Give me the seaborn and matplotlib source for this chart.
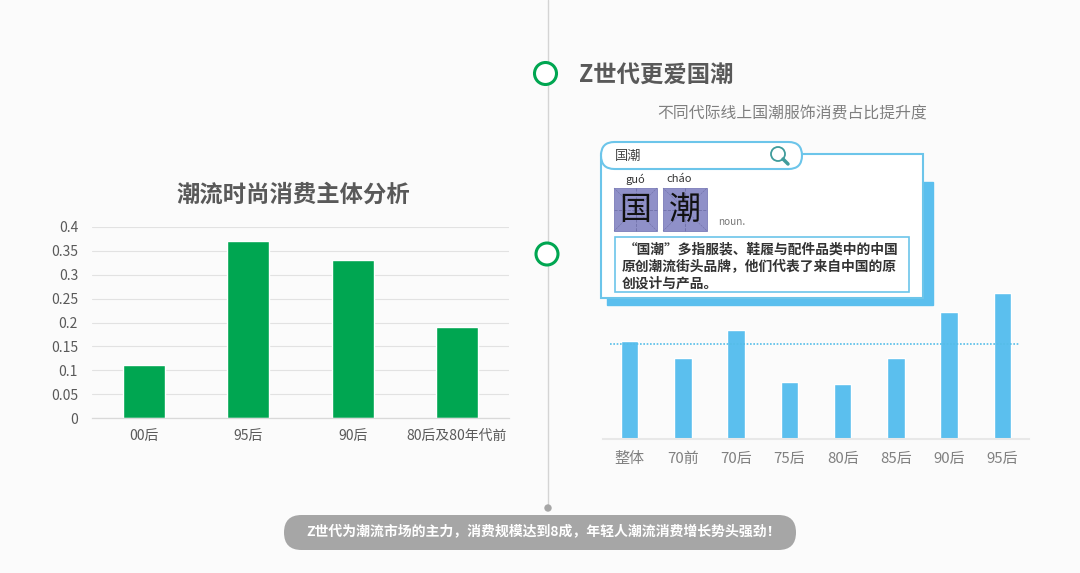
import numpy as np
import pandas as pd
import matplotlib
matplotlib.use("Agg")
import matplotlib.pyplot as plt
from matplotlib.patches import Circle, FancyBboxPatch, Rectangle
import seaborn as sns

sns.set_theme(style="white")
plt.rcParams["font.family"] = ["Noto Sans CJK SC", "DejaVu Sans"]

# left chart
left_cats = ["00后", "95后", "90后", "80后及80年代前"]
left_vals = [0.11, 0.37, 0.33, 0.19]
left_ticks = [0, 0.05, 0.1, 0.15, 0.2, 0.25, 0.3, 0.35, 0.4]
left_ticklabels = ["0", "0.05", "0.1", "0.15", "0.2", "0.25", "0.3", "0.35", "0.4"]

# right chart, no scale in the picture so values are bar heights read off it
right_cats = ["整体", "70前", "70后", "75后", "80后", "85后", "90后", "95后"]
right_vals = [98, 81, 109, 57, 55.5, 81.5, 127, 146]
right_avg = 95.5

W, H = 1080, 573
BG = "#fbfbfb"
GREEN = "#00a651"
BLUE = "#5bbfee"
GREY = "#595959"

def px_axes(fig, x0, x1, ytop, ybot):
	return fig.add_axes([x0 / W, 1 - ybot / H, (x1 - x0) / W, (ybot - ytop) / H])

fig = plt.figure(figsize=(W / 100, H / 100), dpi=100, facecolor=BG)

# left bars
ax = px_axes(fig, 92, 509, 227, 418)
df = pd.DataFrame({"cat": left_cats, "val": left_vals})
sns.barplot(data=df, x="cat", y="val", color=GREEN, saturation=1, width=0.405, ax=ax)
ax.set_facecolor("none")
ax.set_xlim(-0.5, 3.5)
ax.set_ylim(0, 0.4)
ax.set_yticks(left_ticks)
ax.set_yticklabels(left_ticklabels)
ax.set_xlabel("")
ax.set_ylabel("")
ax.yaxis.grid(True, color="#e2e2e2", lw=0.8)
ax.set_axisbelow(True)
sns.despine(ax=ax, left=True, top=True, right=True, bottom=False)
ax.spines["bottom"].set_color("#d9d9d9")
ax.spines["bottom"].set_linewidth(0.9)
ax.tick_params(axis="x", length=0, labelsize=10, labelcolor=GREY, pad=8)
ax.tick_params(axis="y", length=0, labelsize=10, labelcolor=GREY, pad=10)

# right bars
ax2 = px_axes(fig, 603, 1029, 283, 439)
df2 = pd.DataFrame({"cat": right_cats, "val": right_vals})
sns.barplot(data=df2, x="cat", y="val", color=BLUE, saturation=1, width=0.33, ax=ax2)
ax2.set_facecolor("none")
ax2.set_xlim(-0.5, 7.5)
ax2.set_ylim(0, 156)
ax2.set_yticks([])
ax2.set_xlabel("")
ax2.set_ylabel("")
ax2.axhline(right_avg, xmin=0.016, xmax=0.976, color="#55bde8", lw=1.2, ls=(0, (1, 1)))
sns.despine(ax=ax2, left=True, top=True, right=True, bottom=False)
ax2.spines["bottom"].set_color("#e8e8e8")
ax2.spines["bottom"].set_linewidth(1.5)
ax2.tick_params(axis="x", length=0, labelsize=10.8, labelcolor="#808080", pad=9)

# everything else, drawn in pixel coordinates
ov = fig.add_axes([0, 0, 1, 1], zorder=5)
ov.set_xlim(0, W)
ov.set_ylim(H, 0)
ov.axis("off")

ov.plot([548, 548], [0, 508], color="#d4d4d4", lw=1, zorder=1)
ov.add_patch(Circle((548, 508), 3, color="#a6a6a6", zorder=2))
for cx, cy in [(545.5, 73.5), (547, 254)]:
	ov.add_patch(Circle((cx, cy), 11, fc="white", ec=GREEN, lw=2.2, zorder=2))

ov.text(293, 195, "潮流时尚消费主体分析", fontsize=16.8, fontweight="bold", color=GREY, ha="center", va="center")
ov.text(579, 76, "Z世代更爱国潮", fontsize=16.8, fontweight="bold", color=GREY, ha="left", va="center")
ov.text(792.5, 114, "不同代际线上国潮服饰消费占比提升度", fontsize=11.4, color="#7f7f7f", ha="center", va="center")

# dictionary card
ov.add_patch(Rectangle((607, 182), 326, 123, color=BLUE, zorder=2))
ov.add_patch(Rectangle((601, 154), 322, 144, fc="white", ec="#6cc5ea", lw=1.5, zorder=3))
ov.add_patch(FancyBboxPatch((601, 142), 201, 27, boxstyle="round,pad=0,rounding_size=13.5",
	fc="white", ec="#6cc5ea", lw=1.5, zorder=4))
ov.text(615, 156.5, "国潮", fontsize=9.5, color="#444444", ha="left", va="center", zorder=6)
ov.add_patch(Circle((778, 154), 7, fc="white", ec="#3f9c9c", lw=1.3, zorder=6))
ov.plot([783, 788], [159, 164], color="#3f9c9c", lw=2.5, zorder=6)

ov.text(635.5, 179, "guó", fontsize=8, color="#333333", ha="center", va="center", zorder=6)
ov.text(679, 179, "cháo", fontsize=8, color="#333333", ha="center", va="center", zorder=6)
for x0, w, ch in [(614, 43, "国"), (663, 44, "潮")]:
	ov.add_patch(Rectangle((x0, 188), w, 43, fc="#8f90c8", ec="#7b7cb8", lw=0.6, zorder=5))
	ov.plot([x0, x0 + w], [209.5, 209.5], color="#6f70a8", lw=0.6, ls="--", zorder=5)
	ov.plot([x0 + w / 2, x0 + w / 2], [188, 231], color="#6f70a8", lw=0.6, ls="--", zorder=5)
	ov.plot([x0, x0 + w], [188, 231], color="#6f70a8", lw=0.4, ls="--", zorder=5)
	ov.plot([x0, x0 + w], [231, 188], color="#6f70a8", lw=0.4, ls="--", zorder=5)
	ov.text(x0 + w / 2, 210, ch, fontsize=23, color="#111111", ha="center", va="center", zorder=6)
ov.text(718, 222, "noun.", fontsize=7.2, color="#777777", ha="left", va="center", zorder=6)

ov.add_patch(Rectangle((615, 237), 294, 55, fc="white", ec="#6cc5ea", lw=1.2, zorder=5))
ov.text(624, 249.5, "“国潮”多指服装、鞋履与配件品类中的中国", fontsize=9.9, fontweight="bold", color="#333333", ha="left", va="center", zorder=6)
ov.text(622, 267, "原创潮流街头品牌，他们代表了来自中国的原", fontsize=9.9, fontweight="bold", color="#333333", ha="left", va="center", zorder=6)
ov.text(622, 283.5, "创设计与产品。", fontsize=9.9, fontweight="bold", color="#333333", ha="left", va="center", zorder=6)

# bottom pill
ov.add_patch(FancyBboxPatch((284, 515), 512, 35, boxstyle="round,pad=0,rounding_size=17.5",
	fc="#a6a6a6", ec="none", zorder=3))
ov.text(544, 532.5, "Z世代为潮流市场的主力，消费规模达到8成，年轻人潮流消费增长势头强劲！", fontsize=10,
	fontweight="bold", color="white", ha="center", va="center", zorder=4)

fig.savefig("out.png", dpi=100, facecolor=BG)
